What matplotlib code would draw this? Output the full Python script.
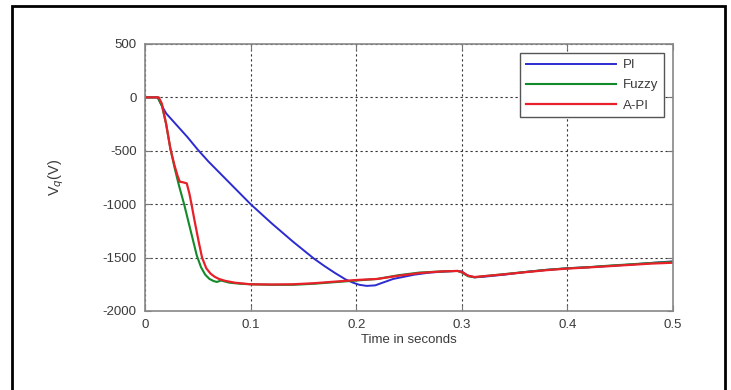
import matplotlib
matplotlib.use("Agg")
import matplotlib.pyplot as plt
from matplotlib.patches import Rectangle

plt.rcParams['font.family'] = ['Liberation Sans', 'DejaVu Sans']
plt.rcParams['axes.unicode_minus'] = False

# q-axis voltage response of the three controllers
t_pi = [0, 0.012, 0.016, 0.020, 0.030, 0.040, 0.050, 0.060, 0.070, 0.080,
        0.090, 0.100, 0.110, 0.120, 0.130, 0.140, 0.150, 0.160, 0.170, 0.180,
        0.190, 0.197, 0.203, 0.210, 0.218, 0.225, 0.235, 0.245, 0.255, 0.270,
        0.285, 0.295, 0.300, 0.305, 0.312, 0.320, 0.340, 0.360, 0.380, 0.400,
        0.420, 0.440, 0.460, 0.480, 0.500]
v_pi = [0, 0, -80, -150, -260, -370, -490, -600, -700, -800,
        -900, -1000, -1090, -1180, -1265, -1350, -1430, -1510, -1580, -1645,
        -1705, -1735, -1755, -1765, -1760, -1735, -1700, -1680, -1660, -1640,
        -1630, -1625, -1630, -1665, -1685, -1680, -1660, -1635, -1615, -1600,
        -1590, -1578, -1565, -1550, -1535]

t_fuzzy = [0, 0.012, 0.016, 0.020, 0.024, 0.028, 0.032, 0.037, 0.041, 0.045,
           0.049, 0.053, 0.057, 0.061, 0.065, 0.068, 0.072, 0.076, 0.080, 0.090,
           0.100, 0.120, 0.140, 0.160, 0.180, 0.200, 0.220, 0.240, 0.260, 0.280,
           0.296, 0.300, 0.306, 0.312, 0.320, 0.340, 0.360, 0.380, 0.400, 0.420,
           0.440, 0.460, 0.480, 0.500]
v_fuzzy = [0, 0, -80, -250, -480, -660, -820, -1000, -1160, -1320,
           -1480, -1590, -1660, -1700, -1720, -1728, -1715, -1725, -1735, -1745,
           -1750, -1755, -1755, -1745, -1730, -1715, -1700, -1665, -1640, -1630,
           -1625, -1640, -1675, -1685, -1675, -1655, -1635, -1615, -1600, -1590,
           -1575, -1563, -1550, -1540]

t_api = [0, 0.013, 0.016, 0.020, 0.024, 0.028, 0.031, 0.033, 0.036, 0.0395,
         0.042, 0.044, 0.047, 0.051, 0.054, 0.058, 0.062, 0.066, 0.070, 0.076,
         0.085, 0.100, 0.120, 0.140, 0.160, 0.180, 0.200, 0.220, 0.240, 0.260,
         0.280, 0.296, 0.300, 0.306, 0.312, 0.320, 0.340, 0.360, 0.380, 0.400,
         0.420, 0.440, 0.460, 0.480, 0.500]
v_api = [0, 0, -60, -250, -480, -640, -740, -790, -795, -805,
         -900, -1000, -1160, -1360, -1500, -1600, -1650, -1680, -1700, -1718,
         -1735, -1750, -1752, -1750, -1740, -1725, -1710, -1700, -1670, -1645,
         -1630, -1625, -1635, -1670, -1682, -1675, -1657, -1637, -1618, -1603,
         -1592, -1580, -1568, -1556, -1548]

x_ticks = [0, 0.1, 0.2, 0.3, 0.4, 0.5]
x_labels = ['0', '0.1', '0.2', '0.3', '0.4', '0.5']
y_ticks = [500, 0, -500, -1000, -1500, -2000]

fig = plt.figure(figsize=(7.31, 3.90), dpi=100)
ax = fig.add_axes([0.1984, 0.2026, 0.7223, 0.6846])

ax.plot(t_pi, v_pi, color='#2b2bd0', lw=1.4, label='PI')
ax.plot(t_fuzzy, v_fuzzy, color='#138a2a', lw=1.5, label='Fuzzy')
ax.plot(t_api, v_api, color='#e8202a', lw=1.6, label='A-PI')

ax.set_xlim(0, 0.5)
ax.set_ylim(-2000, 500)
ax.set_xticks(x_ticks)
ax.set_xticklabels(x_labels)
ax.set_yticks(y_ticks)
ax.grid(True, linestyle=(0, (2, 2.5)), color='#333333', lw=0.8)

for s in ax.spines.values():
    s.set_color('#888888')
    s.set_linewidth(1.2)
ax.tick_params(direction='in', top=True, right=True, length=4, color='#777777',
               labelsize=9.5, labelcolor='#3a3a3a', pad=6)

ax.set_xlabel('Time in seconds', fontsize=9.5, color='#3a3a3a', labelpad=2)
ax.set_ylabel('V$_q$(V)', fontsize=10.5, color='#3a3a3a')
ax.yaxis.set_label_coords(-0.15, 0.5)

leg = ax.legend(loc='upper right', bbox_to_anchor=(0.983, 0.966), fancybox=False,
                framealpha=1, edgecolor='#555555', fontsize=9.5, handlelength=6.8,
                handletextpad=0.5, labelspacing=0.6, borderpad=0.45,
                borderaxespad=0)
leg.get_frame().set_linewidth(1.0)
for txt in leg.get_texts():
    txt.set_color('#3a3a3a')

# black border around the whole figure
fig.patches.append(Rectangle((12 / 731, -0.05), (725 - 12) / 731, 1.05 - 6 / 390,
                             transform=fig.transFigure, fill=False,
                             edgecolor='black', lw=2))

fig.savefig('out.png', dpi=100)
